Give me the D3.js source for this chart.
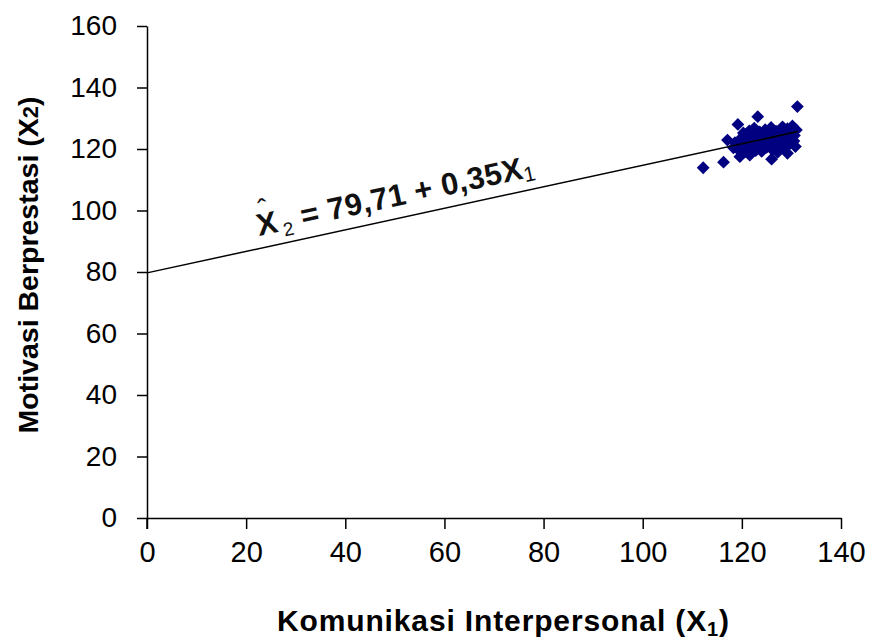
<!DOCTYPE html>
<html>
<head>
<meta charset="utf-8">
<script src="https://cdn.jsdelivr.net/npm/d3@7"></script>
<style>
  html, body { margin: 0; padding: 0; background: #fff; }
  svg { display: block; font-family: "Liberation Sans", Arial, sans-serif; }
</style>
</head>
<body>
<svg id="chart" width="874" height="641"></svg>
<script>
// Scores: interpersonal communication (X1) and achievement motivation (X2)
const komunikasi = [
  131.2, 123.2, 119.2, 112.2, 116.3, 126.0, 129.2, 117.1, 119.6, 121.6,
  118.3, 118.6, 119.4, 119.8, 119.9, 120.3, 120.6, 120.9, 121.2, 121.5,
  121.7, 122.0, 122.3, 122.5, 122.8, 123.1, 123.4, 123.6, 124.0, 124.2,
  124.5, 124.7, 125.0, 125.3, 125.6, 125.9, 126.1, 126.4, 126.7, 126.9,
  127.2, 127.5, 127.7, 128.0, 128.2, 128.5, 128.7, 129.0, 129.2, 129.5,
  129.8, 130.0, 130.2, 130.5, 130.6, 131.0, 130.8
];
const motivasi = [
  133.8, 130.5, 128.0, 113.9, 115.7, 116.7, 118.6, 122.9, 117.5, 118.0,
  120.4, 122.1, 119.6, 121.5, 123.6, 125.2, 119.1, 121.8, 123.4, 125.9,
  120.3, 122.6, 124.7, 126.8, 119.5, 121.2, 123.5, 125.6, 119.2, 121.9,
  124.1, 126.3, 120.5, 122.8, 124.9, 127.0, 119.8, 121.6, 123.7, 125.8,
  118.9, 121.0, 123.2, 125.3, 127.2, 120.1, 122.4, 124.6, 126.6, 121.4,
  123.5, 125.7, 127.5, 122.6, 124.4, 126.2, 120.8
];

// Fitted regression X2 = 79.71 + 0.35 X1
const intercept = 79.71;
const slope = 0.35;
const lineXRange = [0, 131.3];

const xTicks = [0, 20, 40, 60, 80, 100, 120, 140];
const yTicks = [0, 20, 40, 60, 80, 100, 120, 140, 160];

const svg = d3.select("#chart");
const plotLeft = 147, plotRight = 841, plotTop = 26, plotBottom = 518;

const x = d3.scaleLinear().domain([0, 140]).range([plotLeft, plotRight]);
const y = d3.scaleLinear().domain([0, 160]).range([plotBottom, plotTop]);

// Y axis
const yAxis = svg.append("g")
  .attr("transform", `translate(${plotLeft},0)`)
  .call(d3.axisLeft(y).tickValues(yTicks).tickSize(10).tickSizeOuter(0).tickPadding(20));
yAxis.select(".domain").attr("stroke", "#000").attr("stroke-width", 1.5);
yAxis.selectAll(".tick line").attr("stroke", "#000").attr("stroke-width", 1.5);
yAxis.selectAll(".tick text")
  .attr("font-size", 28).attr("fill", "#000")
  .attr("font-family", "Liberation Sans, Arial, sans-serif");

// X axis
const xAxis = svg.append("g")
  .attr("transform", `translate(0,${plotBottom})`)
  .call(d3.axisBottom(x).tickValues(xTicks).tickSize(11).tickSizeOuter(0).tickPadding(12));
xAxis.select(".domain").attr("stroke", "#000").attr("stroke-width", 1.5);
xAxis.selectAll(".tick line").attr("stroke", "#000").attr("stroke-width", 1.5);
xAxis.selectAll(".tick text")
  .attr("font-size", 29).attr("fill", "#000")
  .attr("font-family", "Liberation Sans, Arial, sans-serif");

// Extend the y axis down to the tick at x = 0
svg.append("line")
  .attr("x1", plotLeft).attr("x2", plotLeft)
  .attr("y1", plotBottom).attr("y2", plotBottom + 11)
  .attr("stroke", "#000").attr("stroke-width", 1.5);

// Observations as navy diamonds
const pts = komunikasi.map((v, i) => [v, motivasi[i]]);
const diamond = d3.symbol().type(d3.symbolSquare).size(82);
svg.append("g")
  .selectAll("path")
  .data(pts)
  .join("path")
  .attr("d", diamond)
  .attr("transform", d => `translate(${x(d[0])},${y(d[1])}) rotate(45)`)
  .attr("fill", "#000080");

// Regression line
svg.append("line")
  .attr("x1", x(lineXRange[0])).attr("y1", y(intercept + slope * lineXRange[0]))
  .attr("x2", x(lineXRange[1])).attr("y2", y(intercept + slope * lineXRange[1]))
  .attr("stroke", "#000").attr("stroke-width", 1.5);

// Equation label along the line
const angle = Math.atan2(y(intercept + slope * 100) - y(intercept), x(100) - x(0)) * 180 / Math.PI;
const eq = svg.append("g").attr("transform", `translate(259,236) rotate(${angle})`);
const eqText = eq.append("text")
  .attr("font-size", 31).attr("font-weight", "bold").attr("fill", "#111")
  .attr("letter-spacing", 0.4);
eqText.append("tspan").text("X");
eqText.append("tspan").attr("dx", 4).attr("dy", 6).attr("font-size", 19).attr("font-weight", "normal").text("2");
eqText.append("tspan").attr("dy", -6).text(" = 79,71 + 0,35X");
eqText.append("tspan").attr("dy", 4).attr("font-size", 21).attr("font-weight", "normal").text("1");
eq.append("text")
  .attr("x", 10).attr("y", -16)
  .attr("text-anchor", "middle")
  .attr("font-size", 28).attr("fill", "#111")
  .text("\u02C6");

// Axis titles
const xt = svg.append("text")
  .attr("x", 503).attr("y", 631)
  .attr("text-anchor", "middle")
  .attr("textLength", 452).attr("lengthAdjust", "spacing")
  .attr("font-size", 30).attr("font-weight", "bold").attr("fill", "#000");
xt.append("tspan").text("Komunikasi Interpersonal (X");
xt.append("tspan").attr("dy", 5).attr("font-size", 20).text("1");
xt.append("tspan").attr("dy", -5).text(")");

const yt = svg.append("text")
  .attr("transform", "translate(38,265) rotate(-90)")
  .attr("text-anchor", "middle")
  .attr("font-size", 28.5).attr("font-weight", "bold").attr("fill", "#000");
yt.append("tspan").text("Motivasi Berprestasi (X");
yt.append("tspan").attr("font-size", 22).text("2");
yt.append("tspan").text(")");
</script>
</body>
</html>
